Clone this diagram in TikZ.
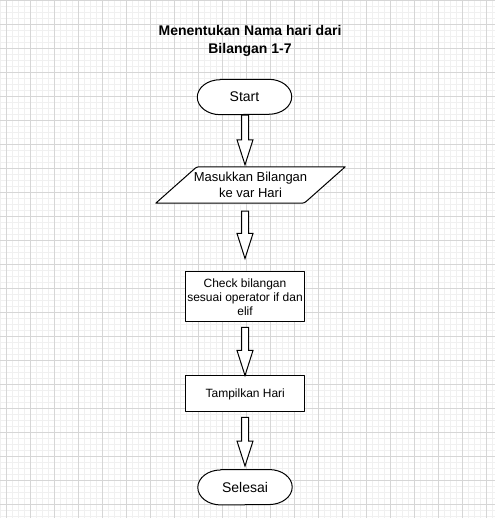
\documentclass[tikz,border=0pt]{standalone}
\usepackage{fontspec}
\setmainfont{Liberation Sans}
\usetikzlibrary{calc}
\pgfdeclarelayer{gridlayer}
\pgfdeclarelayer{shapelayer}
\pgfsetlayers{gridlayer,shapelayer,main}
\definecolor{gridmajor}{HTML}{D6D6D6}
\definecolor{gridminor}{HTML}{F0F0F0}
\tikzset{
  shapeline/.style={draw=black, line width=1pt, fill=white, line join=round},
  blockarrowstyle/.style={draw=black, line width=1pt, fill=white, line join=miter},
  termnode/.style={inner sep=0pt, minimum width=94pt, minimum height=35pt, font=\fontsize{14}{17}\selectfont},
  procbox/.style={shapeline, inner sep=0pt, minimum width=119pt, align=center, font=\fontsize{12}{14}\selectfont},
  ionode/.style={inner sep=0pt, minimum width=189pt, minimum height=36pt, align=center, font=\fontsize{13}{15.6}\selectfont},
  titlenode/.style={inner sep=0pt, align=center, font=\fontsize{14}{18}\selectfont\bfseries}
}
\newcommand\blockarrow[4]{% from anchor, to anchor, gap at from, gap at to
  \draw[blockarrowstyle] let \p1=(spine), \p2=($(#1)+(0,-#3)$), \p3=($(#2)+(0,#4)$) in
   (\x1-3.5pt,\y2) -- (\x1+3.5pt,\y2) -- (\x1+3.5pt,\y3+25pt) -- (\x1+8pt,\y3+25pt)
   -- (\x1,\y3) -- (\x1-8pt,\y3+25pt) -- (\x1-3.5pt,\y3+25pt) -- cycle;}
\newcommand\terminatorshape[1]{%
  \draw[shapeline] ($(#1.north west)+(23,0)$) -- ($(#1.north east)+(-23,0)$)
    arc[start angle=90, end angle=-90, x radius=23, y radius=17.5]
    -- ($(#1.south west)+(23,0)$)
    arc[start angle=270, end angle=90, x radius=23, y radius=17.5] -- cycle;}
\begin{document}
\begin{tikzpicture}[x=1pt, y=1pt]
\useasboundingbox (0,0) rectangle (495,518);
\begin{pgfonlayer}{gridlayer}
  \fill[white] (0,0) rectangle (495,518);
  \foreach \k in {0,...,82} \draw[gridminor, line width=1pt] (0.3+6*\k,0) -- (0.3+6*\k,518);
  \foreach \k in {0,...,86} \draw[gridminor, line width=1pt] (0,517.7-6*\k) -- (495,517.7-6*\k);
  \foreach \k in {0,...,20} \draw[gridmajor, line width=1pt] (6.3+24*\k,0) -- (6.3+24*\k,518);
  \foreach \k in {0,...,21} \draw[gridmajor, line width=1pt] (0,517.7-24*\k) -- (495,517.7-24*\k);
\end{pgfonlayer}

\coordinate (spine) at (245,0);

\node[titlenode] (title) at (250,477) {Menentukan Nama hari dari\\Bilangan 1-7};

\node[termnode] (start) at (244.5,421) {Start};
\node[ionode] (in) at (250.5,333) {Masukkan Bilangan\\ke var Hari};
\node[procbox, minimum height=50.5pt] (check) at (245,221.25) {Check bilangan\\sesuai operator if dan\\elif};
\node[procbox, minimum height=36pt] (show) at (245.25,124) {Tampilkan Hari};
\node[termnode] (end) at (245,30.75) {Selesai};

\begin{pgfonlayer}{shapelayer}
  \terminatorshape{start}
  \terminatorshape{end}
  \draw[shapeline] (in.south west)
    -- ($(in.north west)+(41,0)+(-3.75,-3.3)$)
    .. controls ($(in.north west)+(41,0)$) .. ($(in.north west)+(46,0)$)
    -- (in.north east)
    -- ($(in.south east)+(-41,0)+(3.75,3.3)$)
    .. controls ($(in.south east)+(-41,0)$) .. ($(in.south east)+(-46,0)$)
    -- cycle;
\end{pgfonlayer}

\blockarrow{start.south}{in.north}{0.5}{2}
\blockarrow{in.south}{check.north}{8}{12.5}
\blockarrow{check.south}{show.north}{5}{0}
\blockarrow{show.south}{end.north}{5}{3.5}
\end{tikzpicture}
\end{document}
